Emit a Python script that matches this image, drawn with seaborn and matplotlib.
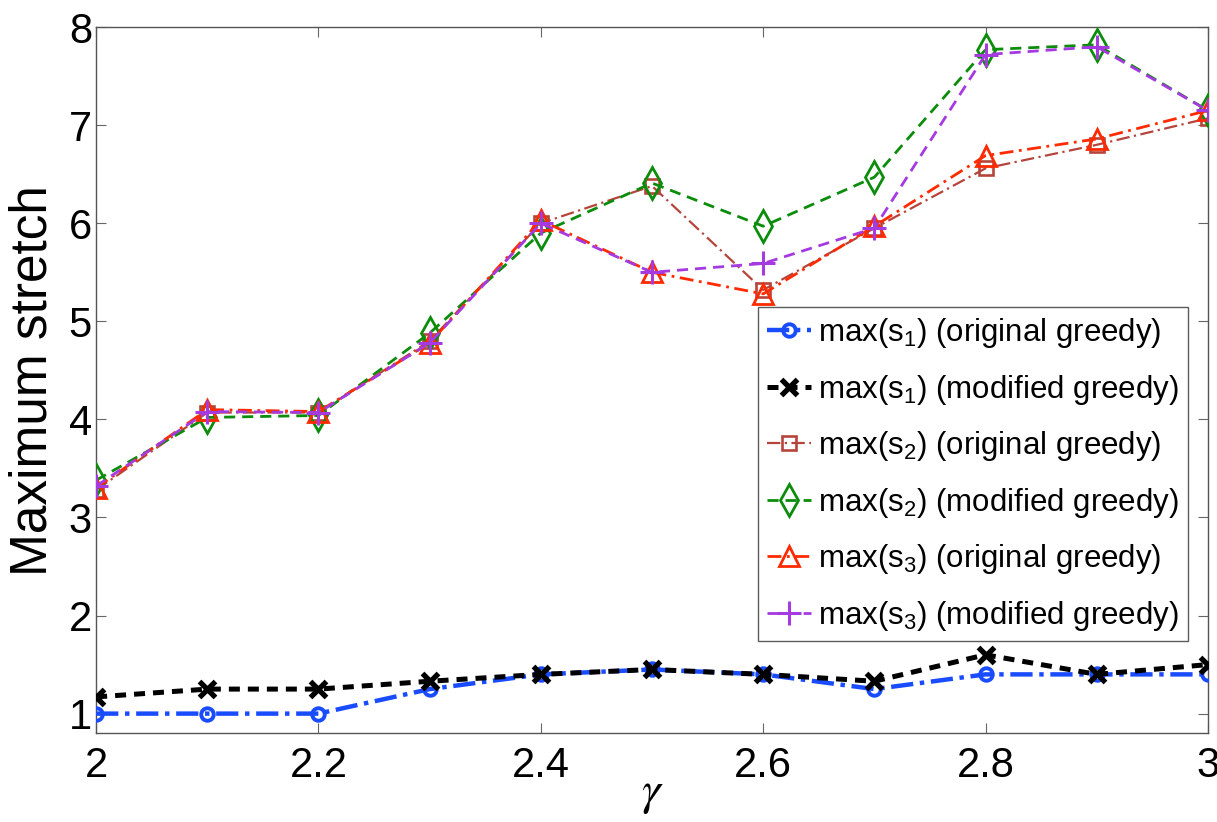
import numpy as np
import pandas as pd
import matplotlib
matplotlib.use("Agg")
import matplotlib.pyplot as plt
import seaborn as sns

gamma = [2.0, 2.1, 2.2, 2.3, 2.4, 2.5, 2.6, 2.7, 2.8, 2.9, 3.0]
s1_orig = [1.0, 1.0, 1.0, 1.25, 1.4, 1.45, 1.4, 1.25, 1.4, 1.4, 1.4]
s1_mod = [1.17, 1.25, 1.25, 1.33, 1.4, 1.45, 1.4, 1.33, 1.6, 1.4, 1.5]
s2_orig = [3.28, 4.07, 4.07, 4.8, 6.0, 6.38, 5.32, 5.95, 6.56, 6.8, 7.07]
s2_mod = [3.38, 4.02, 4.04, 4.88, 5.9, 6.41, 5.97, 6.47, 7.77, 7.82, 7.15]
s3_orig = [3.3, 4.1, 4.08, 4.78, 6.03, 5.5, 5.28, 5.97, 6.69, 6.86, 7.15]
s3_mod = [3.32, 4.08, 4.07, 4.78, 6.0, 5.5, 5.59, 5.95, 7.72, 7.8, 7.15]

labels = [r"max(s$_1$) (original greedy)", r"max(s$_1$) (modified greedy)",
          r"max(s$_2$) (original greedy)", r"max(s$_2$) (modified greedy)",
          r"max(s$_3$) (original greedy)", r"max(s$_3$) (modified greedy)"]
xticks = [2, 2.2, 2.4, 2.6, 2.8, 3]
xticklabels = ["2", "2.2", "2.4", "2.6", "2.8", "3"]
yticks = [1, 2, 3, 4, 5, 6, 7, 8]

sns.set_style("ticks")
plt.rcParams["font.family"] = ["Liberation Sans", "DejaVu Sans"]
plt.rcParams["mathtext.default"] = "regular"
plt.rcParams["text.color"] = "black"
plt.rcParams["axes.labelcolor"] = "black"
plt.rcParams["xtick.color"] = "black"
plt.rcParams["ytick.color"] = "black"
plt.rcParams["xtick.direction"] = "in"
plt.rcParams["ytick.direction"] = "in"

fig = plt.figure(figsize=(12.17, 8.22), dpi=100)
ax = fig.add_axes([0.079, 0.108, 0.9135, 0.859])

styles = [
    dict(color="#1a4cff", dashes=(5, 1.5, 1, 1.5), lw=3.2, marker="o", ms=9, mfc="none", mew=2.8),
    dict(color="#000000", dashes=(2.2, 1.6), lw=3.6, marker="x", ms=11, mew=3.8),
    dict(color="#b5453c", dashes=(6, 2, 1, 2), lw=1.6, marker="s", ms=10, mfc="none", mew=1.9),
    dict(color="#0b8c0b", dashes=(4, 2.5), lw=2.0, marker="d", ms=16, mfc="none", mew=2.0),
    dict(color="#ff2a00", dashes=(5, 2, 1, 2), lw=2.0, marker="^", ms=14, mfc="none", mew=2.0),
    dict(color="#a53ae0", dashes=(4, 2.5), lw=2.0, marker="+", ms=17, mew=2.2),
]
series = [s1_orig, s1_mod, s2_orig, s2_mod, s3_orig, s3_mod]
for vals, lab, st in zip(series, labels, styles):
    sns.lineplot(x=gamma, y=vals, ax=ax, label=lab, color=st["color"], lw=st["lw"])
    ln = ax.lines[-1]
    ln.set_dashes(st["dashes"])
    ln.set_marker(st["marker"])
    ln.set_markersize(st["ms"])
    ln.set_markeredgewidth(st["mew"])
    ln.set_markeredgecolor(st["color"])
    ln.set_markerfacecolor(st.get("mfc", st["color"]))
    ln.set_zorder(3)

ax.set_xlim(2, 3)
ax.set_ylim(0.8, 8)
ax.set_xticks(xticks)
ax.set_xticklabels(xticklabels)
ax.set_yticks(yticks)
ax.tick_params(axis="both", labelsize=30, length=7, width=0.8, color="#666666",
               labelcolor="black", top=True, right=True)
ax.tick_params(axis="x", pad=9)
ax.tick_params(axis="y", pad=3)
for sp in ax.spines.values():
    sp.set_color("#555555")
    sp.set_linewidth(1.0)

ax.set_xlabel(r"$\mathit{\gamma}$", fontsize=34, labelpad=-10, math_fontfamily="stix")
ax.set_ylabel("Maximum stretch", fontsize=37, labelpad=8)

handles = ax.lines[:6]
leg = ax.legend(handles, labels, loc="lower right", bbox_to_anchor=(0.982, 0.13),
                borderaxespad=0, fontsize=22.5, frameon=True, fancybox=False,
                edgecolor="#333333", handlelength=1.4, handletextpad=0.25,
                labelspacing=0.72, borderpad=0.28)
leg.get_frame().set_linewidth(1.0)

fig.savefig("out.png", dpi=100)
